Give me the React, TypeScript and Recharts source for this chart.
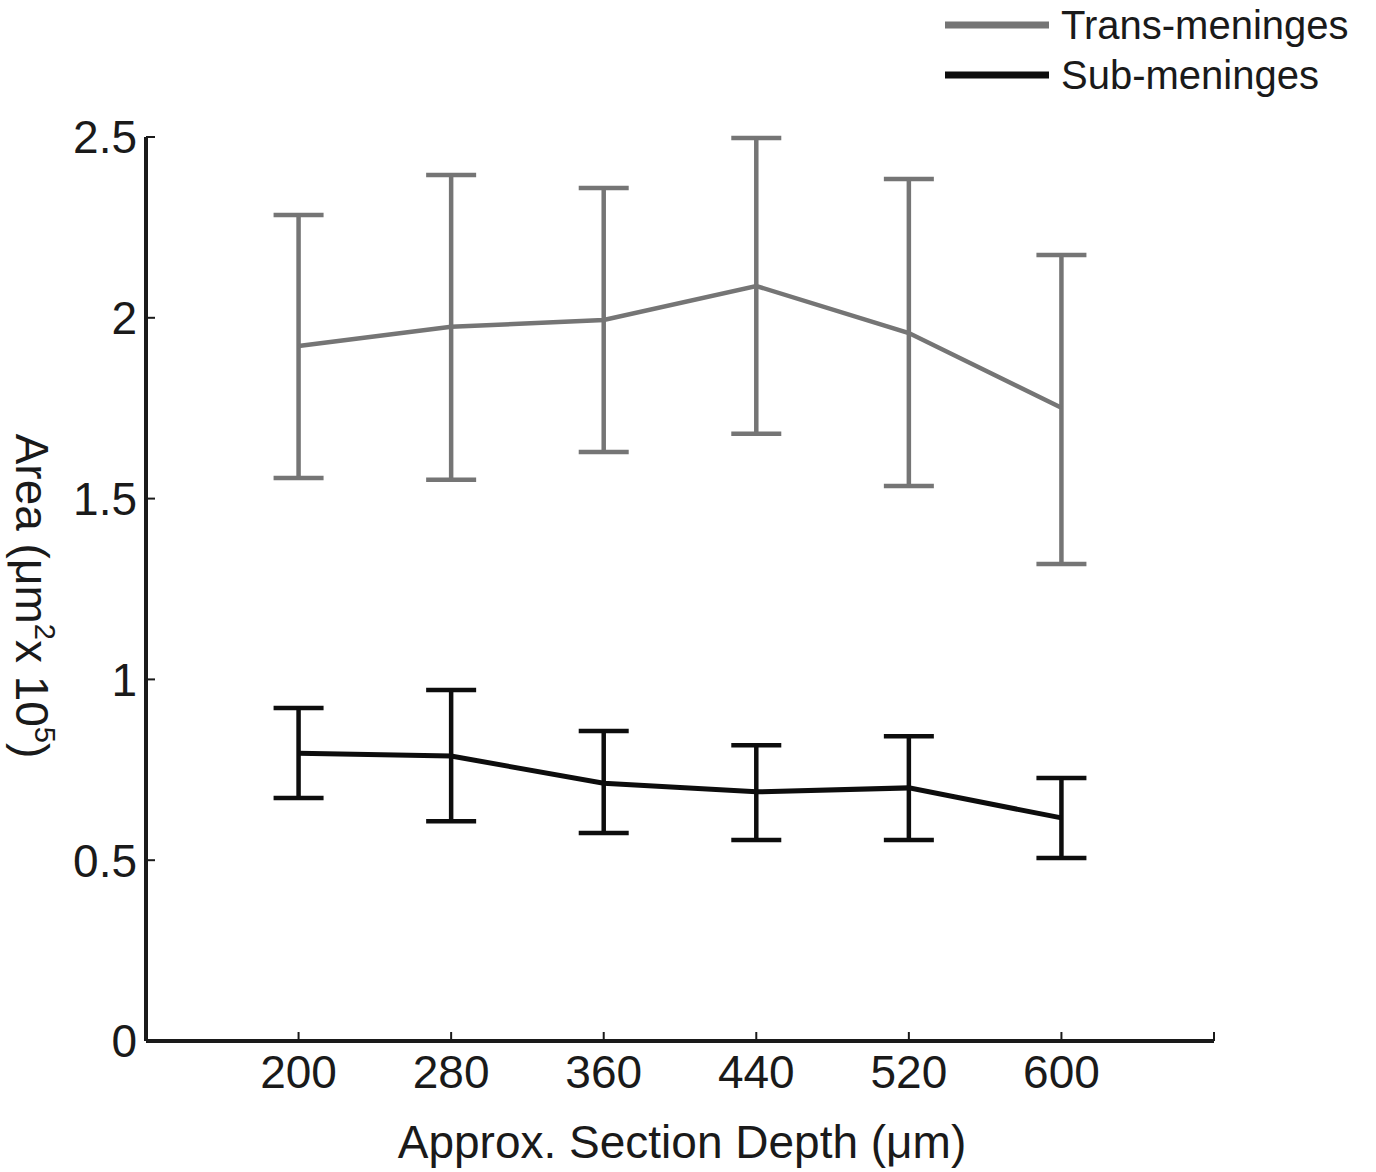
import React from 'react'
import {
  LineChart,
  Line,
  XAxis,
  YAxis,
  ErrorBar,
  Legend,
} from 'recharts'

// section depth (µm)
const depths = [200, 280, 360, 440, 520, 600]

// Trans-meninges: mean, upper and lower bar ends (µm² x 10^5)
const transMean = [1.922, 1.975, 1.994, 2.088, 1.958, 1.751]
const transUpper = [2.284, 2.395, 2.359, 2.497, 2.384, 2.174]
const transLower = [1.557, 1.552, 1.629, 1.679, 1.535, 1.319]

// Sub-meninges
const subMean = [0.796, 0.788, 0.713, 0.689, 0.7, 0.617]
const subUpper = [0.921, 0.971, 0.857, 0.818, 0.843, 0.727]
const subLower = [0.672, 0.608, 0.575, 0.556, 0.556, 0.506]

const xTicks = [200, 280, 360, 440, 520, 600, 680]
const yTicks = [0, 0.5, 1, 1.5, 2, 2.5]

const GRAY = '#757575'
const BLACK = '#0d0d0d'
const INK = '#1a1a1a'
const FONT = '"Liberation Sans", Arial, sans-serif'

const data = depths.map((depth, i) => ({
  depth,
  trans: transMean[i],
  transErr: [transMean[i] - transLower[i], transUpper[i] - transMean[i]],
  sub: subMean[i],
  subErr: [subMean[i] - subLower[i], subUpper[i] - subMean[i]],
}))

const legendItems = [
  { label: 'Trans-meninges', color: GRAY },
  { label: 'Sub-meninges', color: BLACK },
]

const LegendContent = () => (
  <div style={{ fontFamily: FONT, fontSize: 40, color: INK }}>
    {legendItems.map((item) => (
      <div
        key={item.label}
        style={{ display: 'flex', alignItems: 'center', height: 50 }}
      >
        <svg width={104} height={10} style={{ marginRight: 12 }}>
          <line x1={0} y1={5} x2={104} y2={5} stroke={item.color} strokeWidth={7} />
        </svg>
        <span style={{ lineHeight: '50px' }}>{item.label}</span>
      </div>
    ))}
  </div>
)

const YLabel = ({ viewBox }: any) => {
  const cx = viewBox.x + 16
  const cy = viewBox.y + viewBox.height / 2 + 7
  return (
    <text
      transform={`translate(${cx}, ${cy}) rotate(90)`}
      textAnchor="middle"
      fill={INK}
      fontSize={46}
      fontFamily={FONT}
    >
      Area (μm
      <tspan fontSize={29} dy={-19}>2</tspan>
      <tspan dy={19}>x 10</tspan>
      <tspan fontSize={29} dy={-19}>5</tspan>
      <tspan dy={19}>)</tspan>
    </text>
  )
}

const XLabel = ({ viewBox }: any) => (
  <text
    x={viewBox.x + viewBox.width / 2 + 2}
    y={viewBox.y + 117}
    textAnchor="middle"
    fill={INK}
    fontSize={46}
    fontFamily={FONT}
  >
    Approx. Section Depth (μm)
  </text>
)

export default function App() {
  return (
    <div style={{ position: 'absolute', top: 0, left: 0, background: '#fff' }}>
      <LineChart
        width={1376}
        height={1172}
        data={data}
        margin={{ top: 137, right: 162, bottom: 0, left: 0 }}
      >
        <XAxis
          dataKey="depth"
          type="number"
          domain={[120, 680]}
          ticks={xTicks}
          interval={0}
          height={131}
          tickSize={-9}
          tickMargin={23}
          tickFormatter={(v: number) => (v === 680 ? '' : String(v))}
          axisLine={{ stroke: INK, strokeWidth: 4 }}
          tickLine={{ stroke: INK, strokeWidth: 2 }}
          tick={{ fill: INK, fontSize: 46, fontFamily: FONT }}
          label={<XLabel />}
        />
        <YAxis
          type="number"
          domain={[0, 2.5]}
          ticks={yTicks}
          interval={0}
          width={146}
          tickSize={-9}
          tickMargin={18}
          axisLine={{ stroke: INK, strokeWidth: 4 }}
          tickLine={{ stroke: INK, strokeWidth: 2 }}
          tick={{ fill: INK, fontSize: 46, fontFamily: FONT }}
          label={<YLabel />}
        />
        <Legend
          layout="vertical"
          verticalAlign="middle"
          align="center"
          content={<LegendContent />}
          wrapperStyle={{ top: 0, left: 945, width: 430 }}
        />
        <Line
          dataKey="trans"
          stroke={GRAY}
          strokeWidth={4.5}
          dot={false}
          activeDot={false}
          isAnimationActive={false}
        >
          <ErrorBar
            dataKey="transErr"
            direction="y"
            width={25}
            stroke={GRAY}
            strokeWidth={4.5}
            isAnimationActive={false}
          />
        </Line>
        <Line
          dataKey="sub"
          stroke={BLACK}
          strokeWidth={5}
          dot={false}
          activeDot={false}
          isAnimationActive={false}
        >
          <ErrorBar
            dataKey="subErr"
            direction="y"
            width={25}
            stroke={BLACK}
            strokeWidth={4.5}
            isAnimationActive={false}
          />
        </Line>
      </LineChart>
    </div>
  )
}
